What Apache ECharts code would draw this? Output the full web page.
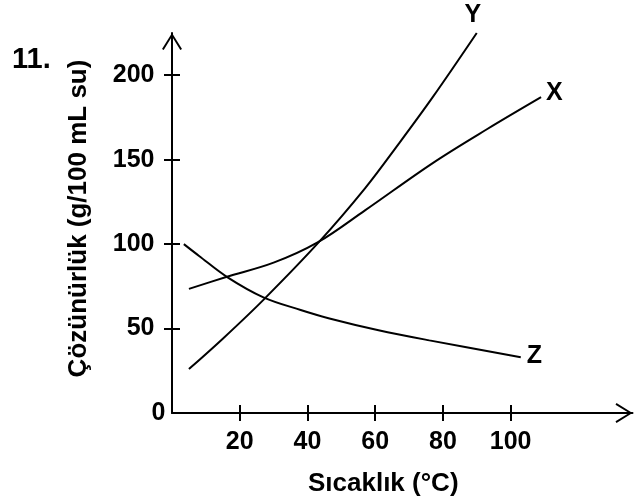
<!DOCTYPE html>
<html>
<head>
<meta charset="utf-8">
<script src="https://cdn.jsdelivr.net/npm/echarts@6/dist/echarts.min.js"></script>
<style>
  html, body { margin: 0; padding: 0; background: #fff; }
  #chart { width: 643px; height: 497px; }
</style>
</head>
<body>
<div id="chart"></div>
<script>
const FONT = '"Liberation Sans", Arial, Helvetica, sans-serif';

// Solubility (g/100 mL water) against temperature (°C) for substances X, Y, Z
const tempX = [5, 16, 30, 43, 57, 77, 93, 109];
const solX  = [73.5, 80.5, 89, 101, 120, 148, 168, 187];

const tempY = [5, 15, 27, 43.3, 57, 67, 77, 90];
const solY  = [26, 44, 67, 101, 133, 159.5, 187, 225];

const tempZ = [3.5, 8, 16.3, 27, 38, 46.5, 61, 76, 103];
const solZ  = [100, 93, 80.5, 68.5, 61, 56, 49, 43, 33];

// Axis ticks and labels
const xTickLabels = [20, 40, 60, 80, 100];
const yTickLabels = [0, 50, 100, 150, 200];
const yTickMarks  = [50, 100, 150, 200];

// Open chevron used as the arrow head at the end of each axis
const ARROW = 'path://M10,0 L20,16 L18.3,17 L10,3.4 L1.7,17 L0,16 Z';

function toData(ts, vs, endLabel) {
  return ts.map((t, i) => {
    const item = { value: [t, vs[i]] };
    if (i === ts.length - 1) {
      item.label = Object.assign({
        show: true,
        formatter: '{a}',
        color: '#000',
        fontFamily: FONT,
        fontWeight: 'bold',
        fontSize: 25
      }, endLabel);
    }
    return item;
  });
}

const tickText = { color: '#000', fontFamily: FONT, fontWeight: 'bold', fontSize: 25 };
const nameText = { color: '#000', fontFamily: FONT, fontWeight: 'bold', fontSize: 26 };
const black2 = { color: '#000', width: 2 };

function curve(name, ts, vs, endLabel) {
  return {
    name: name,
    type: 'line',
    xAxisIndex: 0,
    yAxisIndex: 0,
    data: toData(ts, vs, endLabel),
    smooth: 0.35,
    showSymbol: true,
    symbol: 'circle',
    symbolSize: 0,
    clip: false,
    lineStyle: { color: '#000', width: 2 },
    itemStyle: { color: '#000' },
    emphasis: { disabled: true },
    animation: false
  };
}

const chart = echarts.init(document.getElementById('chart'), null, { renderer: 'canvas' });

chart.setOption({
  backgroundColor: '#fff',
  animation: false,
  grid: { left: 172, right: 10.5, top: 33, bottom: 84, containLabel: false, outerBoundsMode: 'none' },
  graphic: [{
    type: 'text',
    left: 12,
    top: 45,
    style: { text: '11.', font: 'bold 29px ' + FONT, fill: '#000' }
  }],
  xAxis: [{
    type: 'value',
    min: 0,
    max: 136,
    position: 'bottom',
    name: 'Sıcaklık (°C)',
    nameLocation: 'middle',
    nameGap: 58,
    nameTextStyle: Object.assign({ padding: [0, 38, 0, 0] }, nameText),
    axisLine: {
      show: true, onZero: false, lineStyle: black2,
      symbol: ['none', ARROW], symbolSize: [20, 17], symbolOffset: [0, -8.5]
    },
    axisTick: { show: true, inside: false, length: 8, lineStyle: black2, customValues: xTickLabels },
    axisLabel: Object.assign({ margin: 17, customValues: xTickLabels }, tickText),
    splitLine: { show: false }
  }, {
    type: 'value',
    min: 0,
    max: 136,
    position: 'bottom',
    axisLine: { show: false },
    axisTick: { show: true, inside: true, length: 8, lineStyle: black2, customValues: xTickLabels },
    axisLabel: { show: false },
    splitLine: { show: false }
  }],
  yAxis: [{
    type: 'value',
    min: 0,
    max: 225,
    position: 'left',
    name: 'Çözünürlük (g/100 mL su)',
    nameLocation: 'middle',
    nameGap: 80,
    nameTextStyle: Object.assign({ padding: [0, 0, 0, 9] }, nameText),
    axisLine: {
      show: true, onZero: false, lineStyle: black2,
      symbol: ['none', ARROW], symbolSize: [20, 17], symbolOffset: [0, -8.5]
    },
    axisTick: { show: true, inside: false, length: 8, lineStyle: black2, customValues: yTickMarks },
    axisLabel: Object.assign({
      margin: 6.5,
      customValues: yTickLabels,
      formatter: v => (v === 0 ? '{z|0}' : '{n|' + v + '}'),
      rich: {
        z: Object.assign({}, tickText),
        n: Object.assign({ padding: [0, 11, 0, 0] }, tickText)
      }
    }, tickText),
    splitLine: { show: false }
  }, {
    type: 'value',
    min: 0,
    max: 225,
    position: 'left',
    axisLine: { show: false },
    axisTick: { show: true, inside: true, length: 8, lineStyle: black2, customValues: yTickMarks },
    axisLabel: { show: false },
    splitLine: { show: false }
  }],
  series: [
    curve('X', tempX, solX, { position: 'right', distance: 5, offset: [0, -4] }),
    curve('Y', tempY, solY, { position: 'top', distance: 5, offset: [-4, 0] }),
    curve('Z', tempZ, solZ, { position: 'right', distance: 6, offset: [0, -1] })
  ]
});
</script>
</body>
</html>
